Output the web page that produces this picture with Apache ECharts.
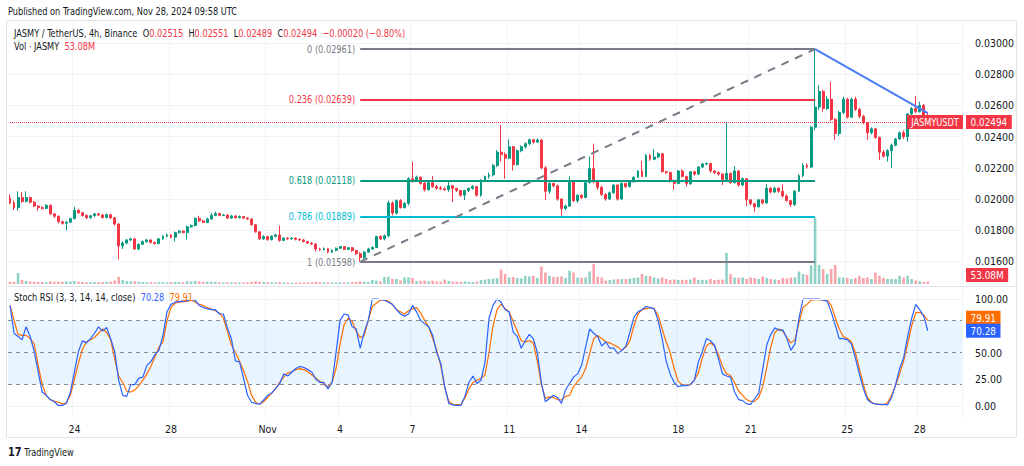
<!DOCTYPE html>
<html>
<head>
<meta charset="utf-8">
<script src="https://cdn.jsdelivr.net/npm/echarts@6/dist/echarts.min.js"></script>
<style>
  html, body { margin: 0; padding: 0; background: #fff; }
  #chart { width: 1024px; height: 466px; }
</style>
</head>
<body>
<div id="chart"></div>
<script>
// JASMY/USDT 4h candles, first candle Oct 21 2024 08:00 UTC
// prices are kept in units of 0.00001 USDT
const firstCandle = Date.UTC(2024, 9, 21, 8);
const padCandles = 8; // empty space right of the last candle

const opens = [
  2005,1975,1945,2010,1985,2010,1980,1955,1945,1940,
  1960,1905,1890,1855,1845,1852,1875,1928,1912,1895,
  1880,1893,1905,1898,1882,1900,1880,1840,1700,1718,
  1738,1745,1680,1710,1727,1738,1722,1715,1745,1762,
  1770,1755,1785,1795,1785,1822,1830,1877,1860,1850,
  1872,1895,1908,1895,1898,1878,1892,1880,1888,1878,
  1872,1835,1790,1745,1760,1740,1762,1770,1735,1750,
  1745,1750,1742,1738,1728,1718,1712,1680,1675,1682,
  1660,1672,1685,1695,1678,1688,1670,1650,1625,1660,
  1680,1690,1760,1745,1765,1975,1910,1990,1945,1972,
  2130,2120,2140,2100,2060,2105,2080,2070,2065,2060,
  2085,2068,2055,2025,2055,2068,2080,2025,2120,2145,
  2155,2215,2300,2285,2262,2335,2220,2310,2335,2355,
  2380,2365,2378,2200,2050,2100,2085,2000,1940,1955,
  2115,1990,2025,2010,2105,2195,2110,2075,2030,2000,
  2040,2090,2000,2100,2080,2110,2140,2180,2145,2280,
  2255,2270,2290,2175,2170,2115,2100,2180,2145,2100,
  2175,2160,2205,2225,2228,2180,2170,2160,2125,2165,
  2105,2180,2090,2130,1995,1970,1950,1995,1975,2070,
  2045,2070,2050,2020,1990,1965,2050,2150,2215,2205,
  2460,2590,2690,2580,2640,2510,2420,2555,2640,2525,
  2640,2575,2530,2490,2425,2450,2395,2300,2275,2310,
  2345,2385,2425,2400,2545,2580,2560,2600,2515
];
const closes = [
  1975,1945,2010,1985,2010,1980,1955,1945,1940,1960,
  1905,1890,1855,1845,1852,1875,1928,1912,1895,1880,
  1893,1905,1898,1882,1900,1880,1840,1700,1718,1738,
  1745,1680,1710,1727,1738,1722,1715,1745,1762,1770,
  1755,1785,1795,1785,1822,1830,1877,1860,1850,1872,
  1895,1908,1895,1898,1878,1892,1880,1888,1878,1872,
  1835,1790,1745,1760,1740,1762,1770,1735,1750,1745,
  1750,1742,1738,1728,1718,1712,1680,1675,1682,1660,
  1672,1685,1695,1678,1688,1670,1650,1625,1660,1680,
  1690,1760,1745,1765,1975,1910,1990,1945,1972,2130,
  2120,2140,2100,2060,2105,2080,2070,2065,2060,2085,
  2068,2055,2025,2055,2068,2080,2025,2120,2145,2155,
  2215,2300,2285,2262,2335,2220,2310,2335,2355,2380,
  2365,2378,2200,2050,2100,2085,2000,1940,1955,2115,
  1990,2025,2010,2105,2195,2110,2075,2030,2000,2040,
  2090,2000,2100,2080,2110,2140,2180,2145,2280,2255,
  2270,2290,2175,2170,2115,2100,2180,2145,2100,2175,
  2160,2205,2225,2228,2180,2170,2160,2125,2165,2105,
  2180,2090,2130,1995,1970,1950,1995,1975,2070,2045,
  2070,2050,2020,1990,1965,2050,2150,2215,2205,2460,
  2590,2690,2580,2640,2510,2420,2555,2640,2525,2640,
  2575,2530,2490,2425,2450,2395,2300,2275,2310,2345,
  2385,2425,2400,2545,2580,2560,2600,2515,2494
];
const lows = [
  1968,1930,1925,1975,1978,1972,1948,1925,1932,1935,
  1898,1880,1845,1836,1800,1845,1870,1905,1888,1872,
  1875,1886,1892,1875,1876,1872,1830,1612,1680,1710,
  1730,1675,1672,1704,1720,1715,1708,1710,1740,1755,
  1748,1728,1778,1780,1740,1815,1825,1852,1845,1845,
  1868,1890,1890,1890,1872,1872,1875,1876,1872,1866,
  1830,1785,1738,1738,1732,1735,1755,1728,1730,1738,
  1740,1735,1732,1722,1712,1705,1663,1668,1670,1652,
  1655,1665,1680,1672,1672,1662,1640,1598,1615,1655,
  1675,1685,1738,1735,1755,1895,1900,1940,1940,1960,
  2105,2110,2092,2048,2055,2072,2060,2058,2052,2047,
  1980,2045,2015,1994,2045,2060,2015,2015,2110,2130,
  2145,2205,2240,2130,2255,2182,2215,2300,2325,2345,
  2355,2358,2190,1994,2035,2075,1990,1893,1930,1950,
  1980,1975,2000,2005,2100,2100,2060,2020,1990,1995,
  2035,1990,1995,2070,2075,2105,2135,2140,2140,2245,
  2250,2262,2170,2160,2105,2060,2095,2138,2080,2090,
  2150,2155,2200,2215,2170,2160,2150,2090,2110,2095,
  2100,2080,2085,1955,1960,1918,1945,1965,1970,2035,
  2040,2040,2010,1985,1950,1955,2045,2140,2195,2198,
  2440,2570,2560,2570,2500,2379,2405,2545,2515,2520,
  2565,2520,2480,2379,2415,2385,2250,2265,2240,2200,
  2338,2378,2385,2368,2540,2550,2555,2505,2489
];
const highs = [
  2030,1990,2050,2045,2050,2015,1988,1962,1955,1968,
  1965,1910,1895,1862,1860,1880,1950,1935,1918,1902,
  1898,1912,1910,1905,1908,1906,1884,1845,1730,1745,
  1752,1750,1715,1735,1745,1742,1728,1750,1768,1780,
  1776,1792,1800,1800,1830,1838,1882,1893,1868,1880,
  1912,1920,1912,1905,1902,1898,1896,1895,1892,1885,
  1878,1840,1795,1768,1765,1768,1778,1830,1755,1755,
  1756,1755,1748,1745,1732,1725,1718,1688,1690,1688,
  1678,1690,1700,1698,1692,1692,1675,1660,1668,1688,
  1698,1765,1768,1772,1990,1985,1998,2000,1980,2140,
  2240,2150,2145,2112,2112,2147,2090,2084,2075,2111,
  2090,2072,2060,2060,2075,2090,2085,2128,2150,2170,
  2225,2315,2475,2300,2383,2340,2318,2345,2362,2388,
  2385,2390,2385,2210,2110,2105,2092,2005,1965,2147,
  2120,2030,2030,2110,2272,2355,2120,2085,2038,2048,
  2095,2095,2108,2105,2118,2145,2185,2245,2290,2290,
  2320,2300,2295,2182,2175,2125,2185,2190,2150,2180,
  2182,2210,2232,2235,2232,2185,2178,2165,2495,2170,
  2210,2185,2140,2135,2000,1975,2000,2000,2095,2075,
  2080,2075,2095,2030,1995,2058,2160,2230,2228,2470,
  2961,2730,2700,2660,2752,2520,2565,2656,2650,2650,
  2656,2585,2540,2495,2460,2455,2400,2315,2320,2355,
  2392,2432,2440,2552,2590,2660,2624,2610,2551
];
// volume, millions of JASMY
const volumes = [
  40,45,220,80,65,50,45,40,40,35,
  55,45,50,45,55,45,60,45,40,35,
  35,40,35,40,45,45,70,145,80,55,
  50,55,45,40,35,35,30,35,35,30,
  40,45,40,35,55,50,60,55,45,50,
  45,40,35,30,35,30,35,30,30,35,
  45,55,50,40,35,35,30,40,30,30,
  25,30,30,30,30,35,45,35,30,35,
  30,30,35,30,30,40,40,55,45,40,
  80,70,50,140,145,100,100,70,130,135,
  120,60,65,65,55,65,50,45,90,60,
  50,45,45,55,45,40,50,80,90,100,
  110,120,290,200,130,140,120,110,160,150,
  165,120,350,230,165,140,145,150,120,265,
  230,130,120,130,250,400,145,130,70,80,
  90,95,100,100,110,120,130,200,165,160,
  130,110,130,100,80,90,80,85,80,90,
  130,85,80,75,100,80,85,90,620,200,
  130,120,130,100,130,120,100,150,120,100,
  90,80,120,110,130,130,250,200,185,370,
  1320,380,300,200,300,380,130,130,120,100,
  120,165,120,130,100,230,165,120,100,100,
  100,165,130,165,100,70,55,40,53.08
];
// Stoch RSI (3, 3, 14, 14, close)
const stochK = [
  94,68,65,62,74,65,51,32,13,10,
  6,4,0.5,0.5,2.5,13,32,51,61,59,
  63,68,74,70,73.5,63,51,24,10,9,
  20,20,26,27,38,41.5,48,52,66,88,
  95,97,97.5,98,98.5,99,99,94,92,91,
  90,90,86,86,73,63,42,41.5,26,10,
  3.5,2.5,1.6,5.6,10,12,16.5,21,30,28,
  31.5,35,37,36,34,31.5,25,22,22,16,
  22,50,80,86,85,74,72,54,69,80,
  100,100,99.5,99,97,95,90,86,84,86,
  94,88,80,77,74,66,50,40,18,2.5,
  1,0.5,0.5,9,22,28,21,24,41,82,
  94,100,97,90,88,69,65,54,61,67,
  63,50,22,4,7,10,8,2.5,15,21,
  27,30,38,55,72,68,65,56,60,54,
  54,49,52,56,69,83,88,90,93,92,
  91,80,63,42,30,22,18,19,19,20,
  24,41,51,63,61,57,44,30,28,27,
  13,6,5,2,1.5,7,12,35,57,67,
  73,71,71,63,52,58,82,100,100,100,
  100,100,99,98,88,76,63,63,62,58,
  45,30,16,6,3,2,1.5,1.5,1,8,
  20,35,45,65,82,95,90,84,70.28
];
const stochD = [
  94,80,67,66,66,63,58,38,20,10,
  6,4.5,3.5,2,3,10,25,40,53,60,
  62,64,68,72,69,62,44,28,22,14,
  13,15,19,24,30,37,46,55,60,80,
  92,96,97,97.5,98,99,97,95,94,92,
  90.7,89,87,82,70,57,50,42,33,23,
  10,3.5,1.6,4,7.8,12,16.5,22,27,31,
  32,34,35,34,32,29,26,23,20,18,
  22,35,58,76,82,79,70,64,66,80,
  93,96,99,99,98,95,90,88,86,89,
  91,92,87,80,74,63,52,38,17,4.5,
  1.5,1.2,1.6,7,16,22,24,26,29,50,
  75,90,95,91,88,79,70,61,60,61,
  59,42,20,7,8.5,8,6,5.6,9,10,
  18,23,27,35,49,63,66,63,60,59,
  57,55,52,55,61,75,86,90,91,92,
  90.7,85,72,60,50,35,23,20,19.6,20,
  24,31,45,56,59,56,48,37,30,28.5,
  22,14,10,6,4.2,4.6,8,18,36,55,
  69,72,70,64,59,62,78,92,95,99,
  99.3,99.5,99,99,94,83,72,65,63,60,
  50,35,20,8,3.5,1.7,1.5,1.1,3,10,
  19,30,42,58,75,87,87.6,85,79.91
];

const priceTicks = [1600, 1800, 2000, 2200, 2400, 2600, 2800, 3000];
const stochTicks = [0, 25, 50, 100];
const stochBands = [80, 50, 20];
// candle index -> time axis label
const timeTicks = {16: '24', 40: '28', 64: 'Nov', 82: '4', 100: '7', 124: '11',
                   142: '14', 166: '18', 184: '21', 208: '25', 226: '28'};

// Fibonacci retracement drawn from the Nov 4 low to the Nov 23 high
const fibLevels = ['0', '0.236', '0.618', '0.786', '1'];
const fibPrices = [0.02961, 0.02639, 0.02118, 0.01889, 0.01598];
const fibColors = ['#787B86', '#F23645', '#089981', '#00BCD4', '#787B86'];
const fibFrom = 87, fibTo = 200;
// falling trend line from the high to the last candle's high
const trendTo = 228, trendToPrice = 0.02551;

const FONT = "'DejaVu Sans Condensed', 'Liberation Sans Narrow', Roboto, sans-serif";
const UP = '#089981', DOWN = '#F23645';
const TXT = '#131722';
const SQ = 0.83; // the screenshot is horizontally squeezed

const N = opens.length;
const categories = [];
for (let i = 0; i < N + padCandles; i++) {
  const d = new Date(firstCandle + i * 4 * 3600 * 1000);
  categories.push(d.toISOString().slice(5, 16).replace('T', ' '));
}
const px = v => v / 1e5;
const lastPrice = px(closes[N - 1]);
const candles = opens.map((o, i) => [px(o), px(closes[i]), px(lows[i]), px(highs[i])]);
const volData = volumes.map((v, i) => ({
  value: v,
  itemStyle: { color: closes[i] >= opens[i] ? 'rgba(8,153,129,0.45)' : 'rgba(242,54,69,0.45)' }
}));

const fibLines = fibPrices.map((p, k) => [
  { coord: [categories[fibFrom], p], lineStyle: { color: fibColors[k], width: 2, type: 'solid' } },
  { coord: [categories[fibTo], p] }
]);

const L = 8, R = 62;
const isTick = i => timeTicks[i] !== undefined;

const chart = echarts.init(document.getElementById('chart'), null, { renderer: 'svg' });
const option = {
  animation: false,
  textStyle: { fontFamily: FONT },
  grid: [
    { left: L, right: R, top: 11.8, height: 280.9 },   // price 0.014 .. 0.032
    { left: L, right: R, top: 204, height: 80 },        // volume overlay
    { left: L, right: R, top: 288.3, height: 128.4 },   // stoch -10 .. 110
    { left: L, right: R, top: 21, height: 397 }         // vertical grid lines
  ],
  xAxis: [0, 1, 2, 3].map(g => ({
    type: 'category', data: categories, gridIndex: g, boundaryGap: true,
    axisLine: { show: false }, axisTick: { show: false },
    axisLabel: g === 2 ? {
      show: true, interval: isTick, color: TXT, fontSize: 10.5, margin: 7,
      formatter: (v, i) => timeTicks[i] || ''
    } : { show: false },
    splitLine: g === 3 ? { show: true, interval: isTick, lineStyle: { color: '#f0f3fa' } } : { show: false }
  })),
  yAxis: [
    { type: 'value', gridIndex: 0, position: 'right', min: 0.014, max: 0.032, interval: 0.002,
      axisLine: { show: false }, axisTick: { show: false },
      axisLabel: { color: TXT, fontSize: 10.5, margin: 13, showMinLabel: false, showMaxLabel: false,
        formatter: v => { const u = Math.round(v * 1e5); return priceTicks.includes(u) ? (u / 1e5).toFixed(5) : ''; } },
      splitLine: { show: true, showMinLine: false, showMaxLine: false, lineStyle: { color: '#f0f3fa' } } },
    { type: 'value', gridIndex: 1, min: 0, max: 1600, show: false },
    { type: 'value', gridIndex: 2, position: 'right', min: -10, max: 110, interval: 5,
      axisLine: { show: false }, axisTick: { show: false }, splitLine: { show: false },
      axisLabel: { color: TXT, fontSize: 10.5, margin: 13,
        formatter: v => stochTicks.includes(v) ? v.toFixed(2) : '' } },
    { type: 'value', gridIndex: 3, min: 0, max: 1, show: false }
  ],
  series: [
    { type: 'candlestick', xAxisIndex: 0, yAxisIndex: 0, data: candles, barWidth: 2.4, z: 3,
      itemStyle: { color: UP, color0: DOWN, borderColor: UP, borderColor0: DOWN, borderWidth: 1 },
      markLine: {
        silent: true, symbol: ['none', 'none'], animation: false,
        label: { show: false },
        data: [
          [ { coord: [categories[0], lastPrice], lineStyle: { color: DOWN, width: 1, type: 'dotted' } },
            { coord: [categories[categories.length - 1], lastPrice] } ],
          ...fibLines,
          [ { coord: [categories[fibFrom], fibPrices[4]], lineStyle: { color: '#787B86', width: 2, type: [8, 7] } },
            { coord: [categories[fibTo], fibPrices[0]] } ],
          [ { coord: [categories[fibTo], fibPrices[0]], lineStyle: { color: '#4a7df5', width: 2, type: 'solid' } },
            { coord: [categories[trendTo], trendToPrice] } ]
        ]
      } },
    { type: 'bar', xAxisIndex: 1, yAxisIndex: 1, data: volData, barWidth: 2.6, z: 2 },
    { type: 'line', xAxisIndex: 2, yAxisIndex: 2, data: stochK, showSymbol: false, z: 4,
      lineStyle: { color: '#2962FF', width: 1.2 },
      markArea: { silent: true, itemStyle: { color: 'rgba(33,150,243,0.1)' },
        data: [[{ yAxis: stochBands[2] }, { yAxis: stochBands[0] }]] },
      markLine: { silent: true, symbol: ['none', 'none'], label: { show: false },
        data: [
          ...stochBands.map(b => ({ yAxis: b, lineStyle: { color: '#8a8d96', width: 1, type: [4, 4] } })),
          { yAxis: 0, lineStyle: { color: '#f0f3fa', width: 1, type: 'solid' } },
          { yAxis: 100, lineStyle: { color: '#f0f3fa', width: 1, type: 'solid' } }
        ] } },
    { type: 'line', xAxisIndex: 2, yAxisIndex: 2, data: stochD, showSymbol: false, z: 3,
      lineStyle: { color: '#FF6D00', width: 1.2 } }
  ]
};
chart.setOption(option);

// tags and fib labels placed through the library's own scales
const lastY = chart.convertToPixel({ yAxisIndex: 0 }, lastPrice);
const volY = Math.min(chart.convertToPixel({ yAxisIndex: 1 }, volumes[N - 1]), 275);
const kY = chart.convertToPixel({ yAxisIndex: 2 }, stochK[N - 1]);
const dY = Math.min(chart.convertToPixel({ yAxisIndex: 2 }, stochD[N - 1]), kY - 13);
const fibX = chart.convertToPixel({ xAxisIndex: 0 }, categories[fibFrom]) - 5;
const axisX = 1024 - R + 4;

function tag(text, x, y, bg, align, sx) {
  return { type: 'text', x: x, y: y, z: 100, silent: true, scaleX: sx || 1,
    style: { text: text, fill: '#fff', backgroundColor: bg, padding: [2, 5, 1, 5],
      font: '11px ' + FONT, align: align || 'left', verticalAlign: 'middle' } };
}
function label(text, x, y, rich, fill, align) {
  return { type: 'text', x: x, y: y, z: 100, silent: true, scaleX: SQ,
    style: { text: text, fill: fill || TXT, font: '11px ' + FONT, verticalAlign: 'middle',
      align: align || 'left', rich: rich || {} } };
}
const red = { fill: DOWN, font: '11px ' + FONT };
const d = { fill: TXT, font: '11px ' + FONT };

const fibLabels = fibPrices.map((p, k) =>
  label(fibLevels[k] + ' (' + p.toFixed(5) + ')', fibX,
        chart.convertToPixel({ yAxisIndex: 0 }, p), null, fibColors[k], 'right'));

chart.setOption({
  graphic: [
    { type: 'rect', silent: true, z: -10, shape: { x: 6.5, y: 20.5, width: 1010, height: 417 },
      style: { fill: 'none', stroke: '#e0e3eb', lineWidth: 1 } },
    { type: 'line', silent: true, shape: { x1: 7, y1: 286.5, x2: 1016, y2: 286.5 },
      style: { stroke: '#e0e3eb', lineWidth: 1 } },
    label('Published on TradingView.com, Nov 28, 2024 09:58 UTC', 8, 11),
    label('{d|JASMY / TetherUS, 4h, Binance}  {d|O}{r|0.02515}  {d|H}{r|0.02551}  {d|L}{r|0.02489}  {d|C}{r|0.02494}  {r|\u22120.00020 (\u22120.80%)}',
      14, 33, { d: d, r: red }),
    label('{d|Vol \u00b7 JASMY}  {r|53.08M}', 14, 46, { d: d, r: red }),
    label('{d|Stoch RSI (3, 3, 14, 14, close)}  {k|' + stochK[N - 1].toFixed(2) + '}  {o|' + stochD[N - 1].toFixed(2) + '}',
      14, 297, { d: d, k: { fill: '#2962FF', font: '11px ' + FONT }, o: { fill: '#FF6D00', font: '11px ' + FONT } }),
    ...fibLabels,
    tag('JASMYUSDT', 1024 - R + 1, lastY, DOWN, 'right', SQ),
    tag(lastPrice.toFixed(5), axisX, lastY, DOWN, 'left', 0.9),
    tag(volumes[N - 1].toFixed(2) + 'M', axisX, volY, DOWN, 'left', 0.9),
    tag(stochD[N - 1].toFixed(2), axisX, dY, '#FF6D00', 'left', 0.9),
    tag(stochK[N - 1].toFixed(2), axisX, kY, '#2962FF', 'left', 0.9),
    { type: 'text', x: 8, y: 452, silent: true, scaleX: SQ,
      style: { text: '{b|17} {t|TradingView}', verticalAlign: 'middle',
        rich: { b: { fill: TXT, font: 'bold 13px ' + FONT }, t: { fill: TXT, font: '11px ' + FONT } } } }
  ]
});
</script>
</body>
</html>
